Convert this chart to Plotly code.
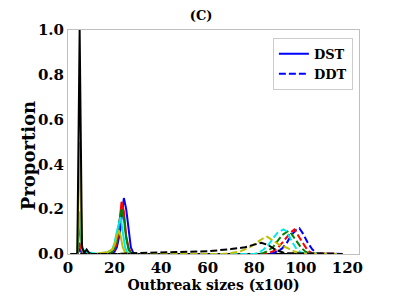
import plotly.graph_objects as go

# ---- data (outbreak size in units of x100, proportion) ----
colors = ["#0000ff", "#ff0000", "#008000", "#00e8e8", "#bfbf00", "#000000"]

# DST (solid)
dst_x = [
    [1, 4, 5, 6, 7, 18, 19, 20, 21, 22, 23, 24, 25, 26, 27, 28, 29, 118],
    [1, 4, 5, 6, 7, 17, 18, 19, 20, 21, 22, 23, 24, 25, 26, 27, 28, 118],
    [1, 4, 5, 6, 7, 16, 18, 19, 20, 21, 22, 23, 24, 25, 26, 27, 28, 118],
    [1, 4, 5, 6, 7, 13, 15, 17, 19, 20, 21, 22, 22.6, 23.5, 24.5, 25.5, 27, 118],
    [1, 4, 5, 6, 7, 12, 14, 17, 19, 20, 21, 21.8, 22.6, 23.5, 24.5, 25.5, 26.5, 118],
    [1, 4, 5, 6, 7, 8, 9, 10, 118],
]
dst_y = [
    [0, 0, 0.02, 0.005, 0, 0, 0.005, 0.01, 0.03, 0.08, 0.16, 0.25, 0.2, 0.1, 0.03, 0.006, 0, 0],
    [0, 0, 0.05, 0.01, 0, 0, 0.005, 0.01, 0.02, 0.05, 0.13, 0.233, 0.19, 0.08, 0.03, 0.005, 0, 0],
    [0, 0, 0.14, 0.03, 0, 0, 0.005, 0.01, 0.03, 0.07, 0.14, 0.2, 0.16, 0.07, 0.02, 0.004, 0, 0],
    [0, 0, 0.19, 0.04, 0.01, 0, 0.005, 0.008, 0.02, 0.05, 0.1, 0.15, 0.165, 0.1, 0.03, 0.006, 0, 0],
    [0, 0, 0.5, 0.02, 0, 0, 0.005, 0.008, 0.02, 0.04, 0.08, 0.107, 0.08, 0.03, 0.008, 0.002, 0, 0],
    [0, 0, 1.0, 0.03, 0.005, 0.02, 0.005, 0, 0],
]

# DDT (dashed)
ddt_x = [
    [1, 86, 88, 90, 92, 94, 96, 98, 99.4, 101, 103, 105, 107, 118],
    [1, 84, 86, 88, 90, 92, 94, 96, 97.2, 99, 101, 103, 105, 118],
    [1, 82, 84, 86, 88, 90, 92, 94.7, 96, 98, 100, 102, 104, 118],
    [1, 80, 82, 84, 86, 88, 90, 92.6, 94, 96, 98, 100, 102, 118],
    [1, 66, 70, 74, 78, 81, 83.5, 85.5, 88, 91, 94, 97, 100, 118],
    [1, 20, 30, 40, 50, 60, 70, 76, 80, 83, 86, 89, 93, 118],
]
ddt_y = [
    [0, 0, 0.004, 0.012, 0.025, 0.05, 0.085, 0.108, 0.115, 0.09, 0.05, 0.02, 0.004, 0],
    [0, 0, 0.004, 0.012, 0.025, 0.05, 0.08, 0.1, 0.11, 0.08, 0.045, 0.015, 0.003, 0],
    [0, 0, 0.005, 0.015, 0.03, 0.055, 0.085, 0.103, 0.09, 0.06, 0.03, 0.01, 0.002, 0],
    [0, 0, 0.006, 0.02, 0.04, 0.065, 0.095, 0.11, 0.1, 0.06, 0.025, 0.008, 0.001, 0],
    [0, 0, 0.004, 0.012, 0.03, 0.05, 0.068, 0.077, 0.06, 0.04, 0.028, 0.012, 0.002, 0],
    [0, 0, 0.004, 0.006, 0.008, 0.012, 0.022, 0.03, 0.042, 0.05, 0.04, 0.02, 0.004, 0],
]

x_ticks = [0, 20, 40, 60, 80, 100, 120]
y_ticks = [0.0, 0.2, 0.4, 0.6, 0.8, 1.0]

FONT = "DejaVu Serif"

fig = go.Figure()
for i, c in enumerate(colors):
    fig.add_trace(go.Scatter(
        x=dst_x[i], y=dst_y[i], mode="lines",
        line=dict(color=c, width=2), showlegend=False, hoverinfo="skip"))
for i, c in enumerate(colors):
    fig.add_trace(go.Scatter(
        x=ddt_x[i], y=ddt_y[i], mode="lines",
        line=dict(color=c, width=2, dash="7px,3px"), showlegend=False, hoverinfo="skip"))

# legend entries
fig.add_trace(go.Scatter(x=[None], y=[None], mode="lines", name="<b>DST</b>",
                         line=dict(color="#0000ff", width=2)))
fig.add_trace(go.Scatter(x=[None], y=[None], mode="lines", name="<b>DDT</b>",
                         line=dict(color="#0000ff", width=2, dash="7px,3px")))

# page body has an 8px margin, so the figure is 391x292 to fill the 399x300 window
fig.update_layout(
    width=391, height=292,
    margin=dict(l=60, r=40, t=22, b=46),
    paper_bgcolor="white", plot_bgcolor="white",
    font=dict(family=FONT, size=14, color="black"),
    title=dict(text="<b>(C)</b>", x=0.494, xref="container", xanchor="center",
               y=0.974, yref="container", yanchor="middle",
               font=dict(size=13, family=FONT)),
    legend=dict(x=0.979, y=0.965, xanchor="right", yanchor="top",
                bgcolor="white", bordercolor="#cccccc", borderwidth=1,
                itemwidth=30,
                font=dict(family=FONT, size=13), tracegroupgap=0),
    xaxis=dict(range=[0, 125], tickvals=x_ticks, ticktext=[f"<b>{v}</b>" for v in x_ticks],
               showgrid=False, zeroline=False, showline=True, mirror=True,
               linecolor="#c0c0c0", linewidth=1, ticks="", automargin=False,
               title=dict(text="<b>Outbreak sizes (x100)</b>", standoff=2,
                          font=dict(size=14, family=FONT)),
               tickfont=dict(size=15, family=FONT)),
    yaxis=dict(range=[0, 1.0], tickvals=y_ticks, ticktext=[f"<b>{v:.1f}</b>" for v in y_ticks],
               showgrid=False, zeroline=False, showline=True, mirror=True,
               linecolor="#c0c0c0", linewidth=1, ticks="", automargin=False,
               tickfont=dict(size=15, family=FONT)),
    annotations=[dict(text="<b>Proportion</b>", xref="paper", yref="paper",
                      x=-0.135, y=0.44, xanchor="center", yanchor="middle",
                      textangle=-90, showarrow=False,
                      font=dict(size=18, family=FONT, color="black"))],
)

fig.write_html("out.html")
